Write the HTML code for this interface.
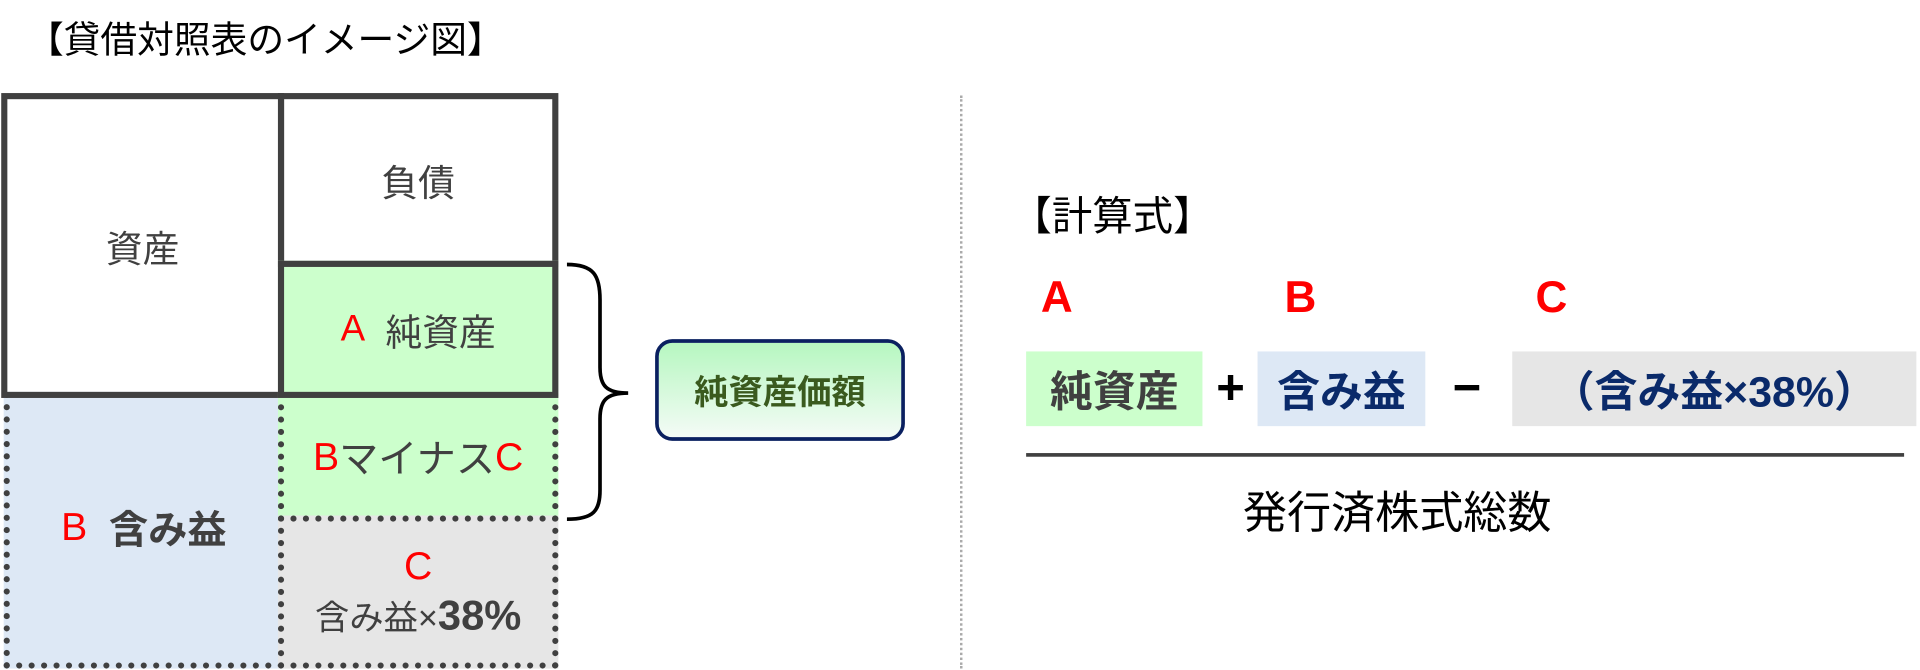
<!DOCTYPE html>
<html><head><meta charset="utf-8"><style>
body{margin:0;width:1920px;height:670px;background:#fff;position:relative;overflow:hidden;font-family:"Liberation Sans","Noto Sans CJK JP",sans-serif;color:#404040}
#w{position:absolute;left:0;top:0;width:1568px;height:547px;transform:scale(1.2245);transform-origin:0 0}
.a{position:absolute;box-sizing:border-box}
.c{display:flex;align-items:center;justify-content:center;text-align:center}
.r{color:#ff0000}
</style></head><body><div id="w">
<div class="a" style="left:22px;top:8px;font-size:30px;color:#000">【貸借対照表のイメージ図】</div>

<div class="a c" style="left:3px;top:320px;width:229px;height:226px;background:#dde8f5;border:5px dotted #404040;border-top:none;font-size:32px"><span class="r">B</span>&nbsp;&nbsp;<b>含み益</b></div>
<div class="a c" style="left:227px;top:320px;width:229px;height:106px;background:#ccffcc;border:5px dotted #404040;border-top:none;border-bottom:none;font-size:32px"><span class="r">B</span>マイナス<span class="r">C</span></div>
<div class="a c" style="left:227px;top:421px;width:229px;height:125px;background:#e6e6e6;border:5px dotted #404040;flex-direction:column;font-size:28px;line-height:1.25"><span class="r" style="font-size:32px">C</span><span>含み益×<b style="font-size:34px">38%</b></span></div>

<div class="a c" style="left:1px;top:76px;width:231px;height:249px;border:5px solid #404040;font-size:30px">資産</div>
<div class="a c" style="left:227px;top:76px;width:229px;height:142px;border:5px solid #404040;font-size:30px">負債</div>
<div class="a c" style="left:227px;top:213px;width:229px;height:112px;border:5px solid #404040;background:#ccffcc;font-size:30px"><span class="r">A</span>&nbsp;&nbsp;純資産</div>

<svg class="a" style="left:455px;top:205px" width="100" height="230">
<path d="M8 11 C30 11 35 20 35 40 L35 95 C35 110 40 116 58 116 C40 116 35 122 35 137 L35 195 C35 212 30 219 8 219" fill="none" stroke="#000" stroke-width="3"/>
</svg>
<div class="a c" style="left:535px;top:277px;width:204px;height:83px;border:3px solid #0a2060;border-radius:14px;background:linear-gradient(#b6f7c0,#f4fbf6);font-size:28px;font-weight:bold;color:#3a5a1e">純資産価額</div>

<div class="a" style="left:784px;top:78px;height:468px;border-left:2px dotted #aaa"></div>

<div class="a" style="left:826px;top:150px;font-size:33px;color:#000">【計算式】</div>
<div class="a r" style="left:850px;top:222px;font-size:36px;font-weight:bold">A</div>
<div class="a r" style="left:1049px;top:222px;font-size:36px;font-weight:bold">B</div>
<div class="a r" style="left:1254px;top:222px;font-size:36px;font-weight:bold">C</div>

<div class="a c" style="left:838px;top:287px;width:144px;height:61px;background:#ccffcc;font-size:35px;font-weight:bold">純資産</div>
<div class="a c" style="left:985px;top:287px;width:40px;height:61px;font-size:40px;font-weight:bold;color:#000">+</div>
<div class="a c" style="left:1027px;top:287px;width:137px;height:61px;background:#dde8f5;font-size:35px;font-weight:bold;color:#0a2a6a">含み益</div>
<div class="a c" style="left:1178px;top:287px;width:40px;height:61px;font-size:40px;font-weight:bold;color:#000">−</div>
<div class="a c" style="left:1235px;top:287px;width:330px;height:61px;background:#e6e6e6;font-size:35px;font-weight:bold;color:#0a2a6a">（含み益×38%）</div>

<div class="a" style="left:838px;top:370px;width:717px;height:3px;background:#404040"></div>
<div class="a" style="left:1015px;top:390px;font-size:36px;color:#000">発行済株式総数</div>
</div></body></html>
